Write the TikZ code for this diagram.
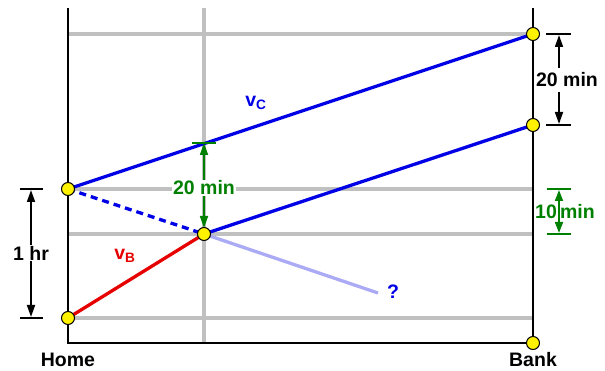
\documentclass[tikz,border=0pt]{standalone}
\usepackage{fontspec}
\setmainfont{Liberation Sans}
\usetikzlibrary{arrows.meta}
\definecolor{gridgray}{RGB}{192,192,192}
\definecolor{myblue}{RGB}{0,0,230}
\definecolor{myred}{RGB}{230,0,0}
\definecolor{mygreen}{RGB}{0,128,0}
\definecolor{lightblue}{RGB}{170,170,245}
\tikzset{
  grid line/.style={gridgray,line width=3.3pt},
  axis line/.style={black,line width=2pt},
  dot/.style={circle,draw=black,fill=yellow,line width=1pt,minimum size=13pt,inner sep=0pt},
  lbl/.style={font=\fontsize{19.5}{19.5}\selectfont\bfseries,inner sep=1pt},
  tick/.style={line width=1.7pt},
  speed/.style={myblue,line width=3.3pt},
  arr/.style={line width=1.7pt,-{Triangle[length=12pt,width=8pt]}},
}
\begin{document}
\begin{tikzpicture}[x=1pt,y=-1pt]
\useasboundingbox (0,0) rectangle (605,371);
% grid
\draw[grid line] (68,34) -- (533,34);
\draw[grid line] (68,189) -- (533,189);
\draw[grid line] (68,234) -- (533,234);
\draw[grid line] (68,318) -- (533,318);
\draw[grid line] (204,8) -- (204,343);
% axes
\draw[axis line] (68,8) -- (68,343) -- (533,343);
\draw[axis line] (533,8) -- (533,343);
% points
\coordinate (h1) at (68,189);
\coordinate (h0) at (68,318);
\coordinate (m) at (204,234);
\coordinate (b1) at (533,34);
\coordinate (b2) at (533,125);
\coordinate (b0) at (533,343);
\coordinate (q) at (378,293);
\coordinate (t) at (204,143);
% lines
\draw[lightblue,line width=3.3pt] (m) -- (q);
\draw[speed] (h1) -- (b1);
\draw[speed] (m) -- (b2);
\draw[speed,dash pattern=on 7pt off 5pt] (h1) -- (m);
\draw[myred,line width=3.3pt] (h0) -- (m);
% green 20 min
\draw[mygreen,tick] (192,143) -- (216,143);
\node[lbl,text=mygreen,fill=white] (g20) at (204,188) {20 min};
\draw[mygreen,arr] (g20.north) -- (t);
\draw[mygreen,arr] (g20.south) -- (204,228);
% dots
\foreach \p in {h1,h0,m,b1,b2,b0} \node[dot] at (\p) {};
% labels
\node[lbl,text=myblue] (vc) at (256,103) {v\textsubscript{C}};
\node[lbl,text=myred] (vb) at (125,256) {v\textsubscript{B}};
\node[lbl,text=myblue] (qm) at (393,292) {?};
\node[lbl] (home) at (68,360) {Home};
\node[lbl] (bank) at (533,360) {Bank};
% 1 hr
\draw[tick] (20,189) -- (43,189);
\draw[tick] (20,318) -- (43,318);
\node[lbl,fill=white] (hr) at (31,253) {1 hr};
\draw[arr] (hr.north) -- (31,190);
\draw[arr] (hr.south) -- (31,317);
% right 20 min
\draw[tick] (546,34) -- (571,34);
\draw[tick] (546,125) -- (571,125);
\node[lbl,fill=white] (r20) at (567,80) {20 min};
\draw[arr] (559,68) -- (559,35);
\draw[arr] (559,92) -- (559,124);
% green 10 min
\draw[mygreen,tick] (547,189) -- (571,189);
\draw[mygreen,tick] (547,234) -- (571,234);
\draw[mygreen,line width=1.7pt,{Triangle[length=11pt,width=8pt]}-{Triangle[length=11pt,width=8pt]}] (559,190) -- (559,233);
\node[lbl,text=mygreen] (r10) at (565,212) {10\,min};
\end{tikzpicture}
\end{document}
